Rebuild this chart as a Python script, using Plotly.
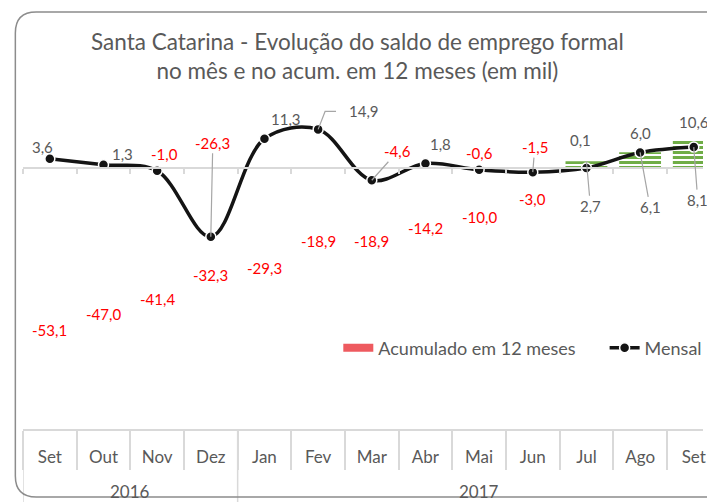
import plotly.graph_objects as go

# Saldo de emprego formal - Santa Catarina (mil)
meses = ["Set", "Out", "Nov", "Dez", "Jan", "Fev", "Mar", "Abr", "Mai", "Jun", "Jul", "Ago", "Set"]
anos = ["2016", "2017"]
meses_por_ano = [4, 9]
mensal = [3.6, 1.3, -1.0, -26.3, 11.3, 14.9, -4.6, 1.8, -0.6, -1.5, 0.1, 6.0, 8.1]
acumulado = [-53.1, -47.0, -41.4, -32.3, -29.3, -18.9, -18.9, -14.2, -10.0, -3.0, 2.7, 6.1, 10.6]

# ---- layout geometry (pixels) ----
W, H = 707, 502
ML, MR, MT, MB = 22.7, 0, 89.5, 73
PW, PH = W - ML - MR, H - MT - MB
SLOT = 54.0                      # width of one month slot
Y_MIN, Y_MAX = -100, 30
X_MAX = -0.5 + PW / SLOT

GRAY = "#595959"
RED = "#FF0000"
GREEN = "#70AD47"
LINE = "#D9D9D9"
LEADER = "#A6A6A6"
FONT = "Lato"


def px_x(px):
    return (px - ML) / PW


def px_y(py):
    return (H - MB - py) / PH


def y_at(py):
    """data value at a given pixel row"""
    return Y_MAX - (py - MT) / PH * (Y_MAX - Y_MIN)


def fmt(v):
    return f"{v:.1f}".replace(".", ",")


idx = list(range(len(meses)))

fig = go.Figure()

# accumulated 12-month balance: negative part unfilled, positive part green stripes
neg = [(i, v) for i, v in zip(idx, acumulado) if v < 0]
pos = [(i, v) for i, v in zip(idx, acumulado) if v >= 0]
fig.add_trace(go.Bar(
    x=[i for i, _ in neg], y=[v for _, v in neg], width=0.78,
    showlegend=False, hoverinfo="skip",
    marker=dict(color="rgba(0,0,0,0)", line=dict(width=0)),
))
fig.add_trace(go.Bar(
    x=[i for i, _ in pos], y=[v for _, v in pos], width=0.78,
    showlegend=False, hoverinfo="skip",
    marker=dict(color="white", line=dict(width=0),
                pattern=dict(shape="-", fillmode="replace", fgcolor=GREEN,
                             bgcolor="white", size=5, solidity=0.6)),
))

# legend entry for the accumulated series
fig.add_trace(go.Scatter(
    x=[None], y=[None], mode="lines", name="Acumulado em 12 meses",
    line=dict(color="#EE5A5F", width=8), legend="legend",
))

# monthly balance
fig.add_trace(go.Scatter(
    x=idx, y=mensal, mode="lines+markers", name="Mensal", xaxis="x2", legend="legend2",
    line=dict(color="#141414", width=3.5, shape="spline", smoothing=1),
    marker=dict(size=10, color="#141414", line=dict(color="white", width=1.5)),
    hoverinfo="skip",
))

annotations = []


def data_label(i, v, dx, dy, lead):
    col = RED if v < 0 else GRAY
    base = dict(x=i, y=v, xref="x", yref="y", text=fmt(v),
                font=dict(family=FONT, size=15, color=col))
    if lead:
        base.update(showarrow=True, ax=dx, ay=dy, arrowhead=0, arrowwidth=1.2,
                    arrowcolor=LEADER, standoff=0)
    else:
        base.update(showarrow=False, xshift=dx, yshift=-dy,
                    xanchor="center", yanchor="middle")
    return base


# monthly labels: (dx, dy, leader line) in pixels from the point
mensal_offsets = [(-7, -12, False), (19, -11, False), (7, -17, False), (2, -94, True),
                  (22, -20, False), (46, -18, False), (26, -29, True), (15, -20, False),
                  (0, -17, False), (2, -25, True), (-6, -28, False), (0, -20, False),
                  (4, 53, True)]
for i, (v, (dx, dy, lead)) in enumerate(zip(mensal, mensal_offsets)):
    annotations.append(data_label(i, v, dx, dy, lead))

# accumulated labels
acum_offsets = [(0, 23, False)] * 10 + [(4, 45, True), (10, 55, True), (0, -19, False)]
for i, (v, (dx, dy, lead)) in enumerate(zip(acumulado, acum_offsets)):
    annotations.append(data_label(i, v, dx, dy, lead))

# year labels and separators under the month row
shapes = []
start = 0
for ano, n in zip(anos, meses_por_ano):
    annotations.append(dict(x=start + (n - 1) / 2, y=px_y(492), xref="x", yref="paper",
                            text=ano, showarrow=False, xanchor="center", yanchor="middle",
                            font=dict(family=FONT, size=17, color=GRAY)))
    shapes.append(dict(type="line", xref="x", yref="paper", x0=start - 0.5, x1=start - 0.5,
                       y0=0, y1=px_y(H + 2), line=dict(color=LINE, width=1.5)))
    start += n

# elbow leader line for the February label
fev = 5
shapes.append(dict(
    type="path", xref="x", yref="y",
    path=(f"M{fev},{mensal[fev]} L{fev + 7 / SLOT},{y_at(111)} "
          f"L{fev + 18 / SLOT},{y_at(111)}"),
    line=dict(color=LEADER, width=1.2),
))

# title
annotations.append(dict(
    x=px_x(359), y=px_y(55), xref="paper", yref="paper", showarrow=False,
    text="Santa Catarina - Evolução do saldo de emprego formal<br>no mês e no acum. em 12 meses (em mil)",
    font=dict(family=FONT, size=22.5, color=GRAY), xanchor="center", yanchor="middle",
))

# rounded chart frame (open on the right side)
L, T, B, R, r = 15, 11.5, 497, W + 20, 21
frame = (f"M{px_x(R)},{px_y(T)} L{px_x(L + r)},{px_y(T)} "
         f"Q{px_x(L)},{px_y(T)} {px_x(L)},{px_y(T + r)} "
         f"L{px_x(L)},{px_y(B - r)} Q{px_x(L)},{px_y(B)} {px_x(L + r)},{px_y(B)} "
         f"L{px_x(R)},{px_y(B)}")
shapes.append(dict(type="path", xref="paper", yref="paper", path=frame,
                   line=dict(color="#8C8C8C", width=1.5)))

boundaries = [i - 0.5 for i in range(len(meses) + 1)]

legend_style = dict(orientation="h", xanchor="left", yanchor="middle",
                    font=dict(family=FONT, size=18, color=GRAY),
                    bgcolor="rgba(0,0,0,0)", borderwidth=0)

fig.update_layout(
    width=W, height=H,
    margin=dict(l=ML, r=MR, t=MT, b=MB, pad=0),
    paper_bgcolor="white", plot_bgcolor="white",
    font=dict(family=FONT, color=GRAY),
    barmode="overlay",
    xaxis=dict(
        range=[-0.5, X_MAX], showgrid=False, zeroline=False,
        tickmode="array", tickvals=idx, ticktext=meses, ticks="",
        tickfont=dict(family=FONT, size=17, color=GRAY),
        ticklabelstandoff=12, ticklabeloverflow="allow",
        showline=True, linecolor=LINE, linewidth=1.5,
        minor=dict(tickmode="array", tickvals=boundaries, ticks="outside",
                   ticklen=39, tickcolor=LINE, tickwidth=1.5, showgrid=False),
    ),
    xaxis2=dict(
        overlaying="x", anchor="free", position=(0 - Y_MIN) / (Y_MAX - Y_MIN), side="bottom",
        range=[-0.5, X_MAX], showgrid=False, zeroline=False,
        tickmode="array", tickvals=boundaries, ticks="outside", ticklen=5,
        tickcolor=LINE, tickwidth=1.5, showticklabels=False,
        showline=True, linecolor=LINE, linewidth=1.5,
    ),
    yaxis=dict(range=[Y_MIN, Y_MAX], visible=False, showgrid=False, zeroline=False),
    legend=dict(x=px_x(340), y=px_y(348), **legend_style),
    legend2=dict(x=px_x(608), y=px_y(348), **legend_style),
    annotations=annotations,
    shapes=shapes,
)

fig.write_html("out.html")
